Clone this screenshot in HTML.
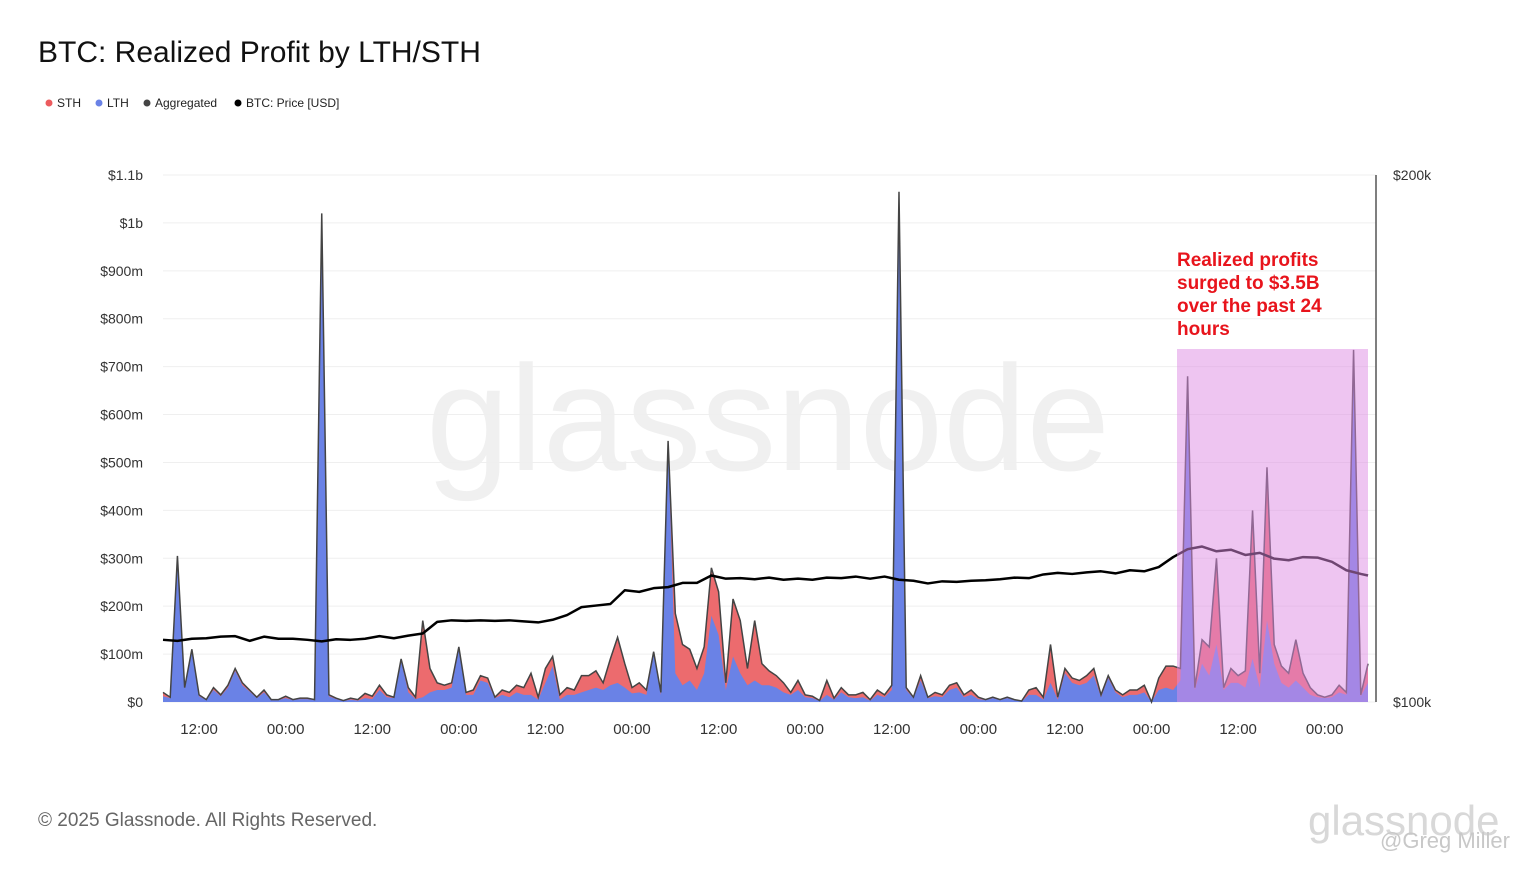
<!DOCTYPE html>
<html><head><meta charset="utf-8"><style>
body{margin:0;background:#fff;font-family:"Liberation Sans",sans-serif;}
svg text{font-family:"Liberation Sans",sans-serif;}
</style></head><body>
<svg id="c" width="1536" height="864">
<text x="38" y="62" font-size="30" fill="#111">BTC: Realized Profit by LTH/STH</text>
<g font-size="12" fill="#222">
<circle cx="49" cy="103" r="3.5" fill="#ec5b5e"/><text x="57" y="107">STH</text>
<circle cx="99" cy="103" r="3.5" fill="#6a82e6"/><text x="107" y="107">LTH</text>
<circle cx="147" cy="103" r="3.5" fill="#444"/><text x="155" y="107">Aggregated</text>
<circle cx="238" cy="103" r="3.5" fill="#000"/><text x="246" y="107">BTC: Price [USD]</text>
</g>
<text x="768" y="470" font-size="150" fill="#f0f0f0" text-anchor="middle">glassnode</text>
<g id="grid"></g><g id="marks"></g><g id="axes"></g>
<rect x="1177" y="349" width="191" height="353" fill="rgb(222,140,228)" fill-opacity="0.5"/>
<line x1="1376" y1="175" x2="1376" y2="702" stroke="#555" stroke-width="1.5"/>
<g font-size="19" font-weight="bold" fill="#e8141c">
<text x="1177" y="266">Realized profits</text><text x="1177" y="289">surged to $3.5B</text><text x="1177" y="312">over the past 24</text><text x="1177" y="335">hours</text></g>
<text x="38" y="826" font-size="19" fill="#666">© 2025 Glassnode. All Rights Reserved.</text>
<text x="1308" y="835" font-size="42" fill="#d8d8d8">glassnode</text>
<text x="1380" y="848" font-size="22" fill="#c8c8c8">@Greg Miller</text>
</svg>
<script>
const lth=[12,8,300,28,108,12,4,25,12,30,65,35,22,8,20,4,4,8,4,6,6,4,1020,12,6,2,5,3,8,6,25,10,8,85,20,6,10,20,25,25,30,110,15,15,45,40,8,15,10,20,15,15,5,40,75,5,15,15,20,25,30,25,35,40,30,18,20,15,100,15,540,60,35,45,25,60,180,140,25,95,60,35,45,35,35,30,20,15,25,10,8,2,15,5,20,10,8,10,3,15,10,25,1060,25,8,45,8,12,10,25,30,10,15,6,4,8,4,8,4,1,15,15,5,40,5,60,40,35,40,55,10,50,20,10,15,15,20,0,25,30,25,45,670,25,80,55,120,25,40,40,30,90,30,170,80,40,30,45,30,15,10,8,10,20,15,730,12,40];
const total=[20,10,305,30,110,15,5,30,15,35,70,40,25,10,25,5,5,12,5,8,8,5,1020,15,8,3,8,5,18,12,35,15,10,90,30,10,170,70,40,35,40,115,20,25,55,50,10,25,20,35,30,60,10,70,95,15,30,25,55,55,65,40,90,135,80,30,40,25,105,20,545,185,120,110,70,115,280,230,40,215,170,70,170,80,65,55,40,20,45,15,12,3,45,8,30,15,15,20,5,25,15,35,1065,30,10,55,10,20,15,35,40,15,25,10,5,10,5,10,5,2,25,30,10,120,10,70,50,45,55,70,15,55,25,15,25,25,35,0,50,75,75,70,680,30,130,115,300,30,70,55,65,400,60,490,120,75,60,130,60,30,15,10,15,35,20,735,15,80];
const price=[111.8,111.6,112.0,112.1,112.4,112.5,111.6,112.4,112.0,112.0,111.8,111.5,111.9,111.8,112.0,112.5,112.1,112.6,113.0,115.2,115.5,115.4,115.5,115.4,115.5,115.3,115.1,115.6,116.5,118.0,118.3,118.6,121.2,120.9,121.6,121.8,122.6,122.6,124.0,123.4,123.5,123.3,123.6,123.2,123.4,123.2,123.6,123.5,123.8,123.4,123.8,123.2,123.0,122.5,122.9,122.8,123.0,123.1,123.3,123.6,123.5,124.2,124.5,124.3,124.6,124.8,124.4,125.0,124.8,125.6,127.5,129.0,129.5,128.6,128.9,127.9,128.3,127.2,126.9,127.5,127.4,126.6,125.0,124.3,124.0];
const yTicks=[0,100,200,300,400,500,600,700,800,900,1000,1100];
const yLabels=["$0","$100m","$200m","$300m","$400m","$500m","$600m","$700m","$800m","$900m","$1b","$1.1b"];
const xTickIdx=[5,17,29,41,53,65,77,89,101,113,125,137,149,161];
const xLabels=["12:00","00:00","12:00","00:00","12:00","00:00","12:00","00:00","12:00","00:00","12:00","00:00","12:00","00:00"];
const NS="http://www.w3.org/2000/svg";
const N=total.length;
const x=i=>163+i*(1368-163)/(N-1);
const y=v=>702-v*(702-175)/1100;
const yp=p=>702-(p-100)*(702-175)/100;
function mk(t,a,parent){const e=document.createElementNS(NS,t);for(const k in a)e.setAttribute(k,a[k]);parent.appendChild(e);return e;}
const grid=document.getElementById('grid'),marks=document.getElementById('marks'),axes=document.getElementById('axes');
yTicks.forEach((v,k)=>{
 const l=mk('line',{x1:163,x2:1376,y1:y(v),y2:y(v),stroke:'#efefef'},grid);
 
 
 const t=mk('text',{x:143,y:y(v)+5,'font-size':14,fill:'#333','text-anchor':'end'},axes);
 t.textContent=yLabels[k];
 
 
});
xTickIdx.forEach((i,k)=>{
 const t=mk('text',{x:x(i),y:734,'font-size':15,fill:'#333','text-anchor':'middle'},axes);
 t.textContent=xLabels[k];
 
 
});
[["$200k",175],["$100k",702]].forEach(([s,yy])=>{
 const t=mk('text',{x:1393,y:yy+5,'font-size':14,fill:'#333'},axes);
 t.textContent=s;
 
 
});
let pt=[],pl=[],pa=[];
for(let i=0;i<N;i++){pt.push(x(i)+','+y(total[i]));pl.push(x(i)+','+y(lth[i]));}
const base=x(N-1)+',702 '+x(0)+',702';
const sth=mk('polygon',{points:pt.join(' ')+' '+base,fill:'#ec6b6e'},marks);


const lt=mk('polygon',{points:pl.join(' ')+' '+base,fill:'#6a82e6'},marks);


const ag=mk('polyline',{points:pt.join(' '),fill:'none',stroke:'#444','stroke-width':1.5},marks);


for(let k=0;k<price.length;k++)pa.push(x(Math.min(k*2,N-1))+','+yp(price[k]));
const pr=mk('polyline',{points:pa.join(' '),fill:'none',stroke:'#000','stroke-width':2.5,'stroke-linejoin':'round'},marks);


</script>
</body></html>
